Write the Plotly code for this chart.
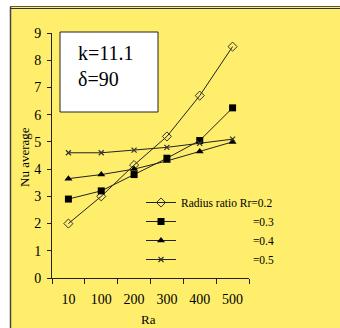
import plotly.graph_objects as go

ra_labels = ["10", "100", "200", "300", "400", "500"]
nu_rr02 = [2.0, 3.0, 4.15, 5.2, 6.7, 8.5]
nu_rr03 = [2.9, 3.2, 3.8, 4.4, 5.05, 6.25]
nu_rr04 = [3.65, 3.8, 4.0, 4.3, 4.65, 5.0]
nu_rr05 = [4.6, 4.6, 4.7, 4.8, 4.95, 5.1]

series_names = ["Radius ratio Rr=0.2", "=0.3", "=0.4", "=0.5"]
pad = "\u00a0" * 25
FONT = "Times New Roman, Liberation Serif, serif"
YEL = "#FFEE6C"

W, H = 340, 328
L, R, T, B = 52, 91, 33, 50
pw, ph = W - L - R, H - T - B

def px(p):
    return (p - L) / pw

def py(q):
    return (H - B - q) / ph

fig = go.Figure()
specs = [
    (nu_rr02, dict(symbol="diamond-open", size=7, color="#333", line=dict(width=1, color="#333"))),
    (nu_rr03, dict(symbol="square", size=7, color="black")),
    (nu_rr04, dict(symbol="triangle-up", size=7, color="black")),
    (nu_rr05, dict(symbol="x-thin-open", size=5, color="#333", line=dict(width=1.2, color="#333"))),
]
for i, (vals, mk) in enumerate(specs):
    name = series_names[i] if i == 0 else pad + series_names[i]
    fig.add_trace(go.Scatter(
        x=ra_labels, y=vals, mode="lines+markers", name=name,
        line=dict(color="#222", width=1), marker=mk,
    ))

shapes = [
    dict(type="rect", xref="paper", yref="paper", x0=px(11), x1=px(345), y0=py(7), y1=py(335),
         fillcolor=YEL, line=dict(width=0), layer="below"),
    dict(type="line", xref="paper", yref="paper", x0=px(10.5), x1=px(10.5), y0=py(7), y1=py(335),
         line=dict(color="#444", width=1.5)),
    dict(type="line", xref="paper", yref="paper", x0=px(10), x1=px(345), y0=py(6.5), y1=py(6.5),
         line=dict(color="#555", width=1.2)),
    dict(type="line", xref="paper", yref="paper", x0=px(10), x1=px(345), y0=py(8.5), y1=py(8.5),
         line=dict(color="#333", width=1.2)),
    dict(type="rect", xref="paper", yref="paper", x0=px(60), x1=px(158), y0=py(112), y1=py(32),
         fillcolor="white", line=dict(color="#222", width=1)),
]

annotations = [
    dict(text="k=11.1", xref="paper", yref="paper", x=px(76), y=py(53), xanchor="left", yanchor="middle",
         showarrow=False, font=dict(family=FONT, size=20, color="black")),
    dict(text="δ=90", xref="paper", yref="paper", x=px(76), y=py(79), xanchor="left", yanchor="middle",
         showarrow=False, font=dict(family=FONT, size=20, color="black")),
    dict(text="Nu average", xref="paper", yref="paper", x=px(24), y=py(157), textangle=-90,
         xanchor="center", yanchor="middle", showarrow=False, font=dict(family=FONT, size=13, color="black")),
    dict(text="Ra", xref="paper", yref="paper", x=px(148), y=py(319), xanchor="center", yanchor="middle",
         showarrow=False, font=dict(family=FONT, size=13, color="black")),
]

fig.update_layout(
    width=W, height=H, margin=dict(l=L, r=R, t=T, b=B),
    paper_bgcolor="white", plot_bgcolor=YEL,
    font=dict(family=FONT, size=14, color="black"),
    shapes=shapes, annotations=annotations,
    showlegend=True,
    legend=dict(x=px(141), y=py(188), xanchor="left", yanchor="top", bgcolor="rgba(0,0,0,0)",
                font=dict(family=FONT, size=11.5, color="black"), tracegroupgap=0, itemwidth=30),
    xaxis=dict(type="category", range=[-0.5, 5.5], showgrid=False, showline=True, linecolor="#222",
               linewidth=1, ticks="outside", tickson="boundaries", ticklen=5, tickcolor="#222",
               ticklabelstandoff=8, zeroline=False),
    yaxis=dict(range=[0, 9], dtick=1, showgrid=False, showline=True, linecolor="#222", linewidth=1,
               ticks="outside", ticklen=4, tickcolor="#222", ticklabelstandoff=3, zeroline=False),
)

fig.write_html("out.html")
